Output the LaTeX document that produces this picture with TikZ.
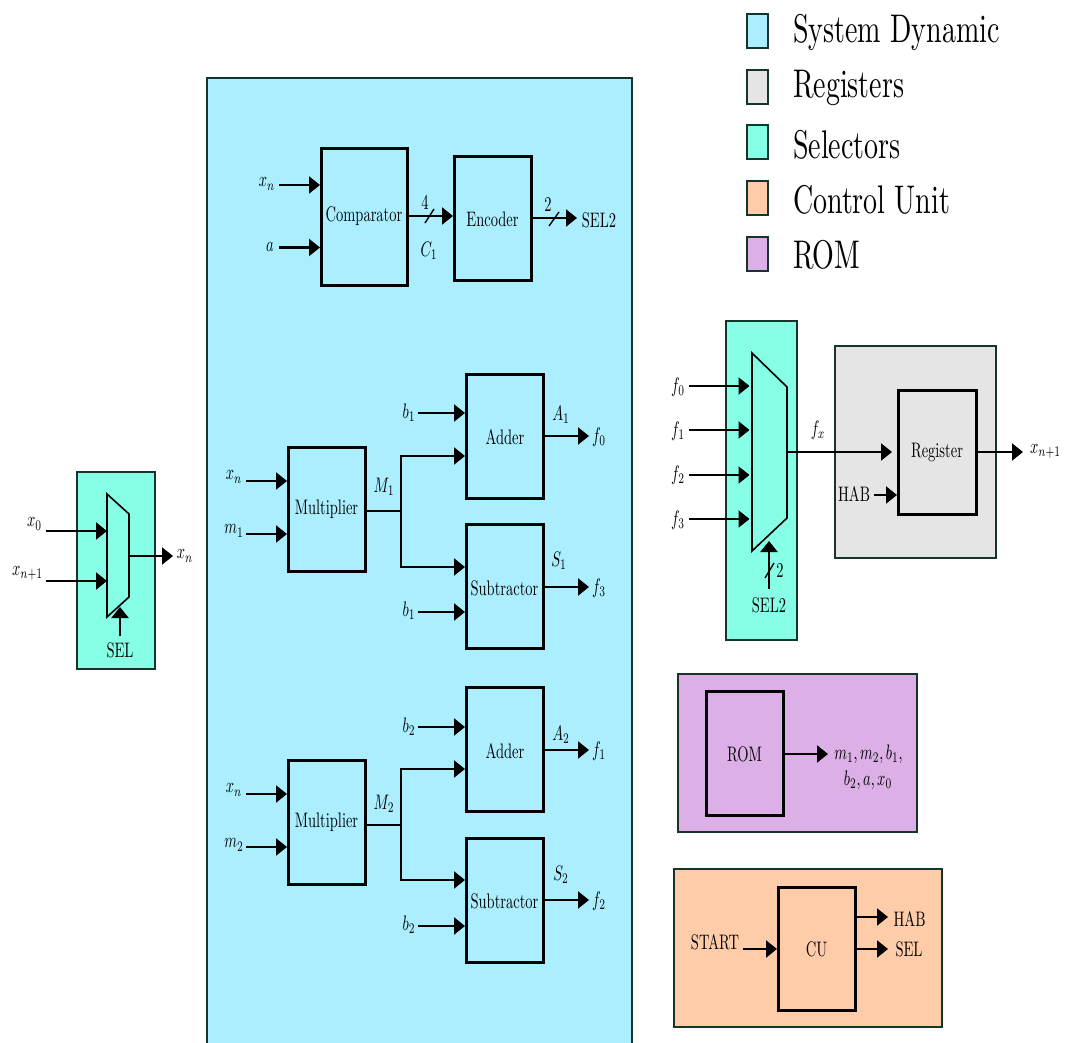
\documentclass[tikz,border=0pt]{standalone}
\usepackage{graphicx}
\usetikzlibrary{arrows.meta}
\definecolor{sysc}{HTML}{AAEEFF}
\definecolor{regc}{HTML}{E5E5E5}
\definecolor{selc}{HTML}{87FFE6}
\definecolor{cuc}{HTML}{FFCCAA}
\definecolor{romc}{HTML}{DCAFE6}
\definecolor{edgec}{HTML}{16352A}
\newcommand{\Sq}[1]{\scalebox{1.45}[2.1]{#1}}
\newcommand{\Lg}[1]{\scalebox{2.8}[4]{#1}}
\tikzset{
  x=1pt,y=-1pt,
  group/.style={draw=edgec,line width=1.3pt,inner sep=0,outer sep=0,anchor=north west},
  heavygroup/.style={group,line width=2.2pt},
  block/.style={draw=black,line width=3pt,inner sep=0,outer sep=0,anchor=north west},
  lab/.style={inner sep=0,outer sep=0},
  key/.style={draw=edgec,line width=2.6pt,inner sep=0,outer sep=0,minimum width=21pt,minimum height=34pt,anchor=north west},
  keytext/.style={inner sep=0,outer sep=0,anchor=west},
  conn/.style={line width=2.2pt,-{Triangle[length=11pt,width=17pt]},shorten >=1pt},
  muxin/.style={conn,shorten >=2.5pt},
  wire/.style={line width=2.2pt},
  slash/.style={line width=1.4pt},
  mux/.style={draw=black,line width=1.6pt,line join=miter},
}
\begin{document}
\begin{tikzpicture}
\useasboundingbox (0,0) rectangle (1073,1042);
\clip (0,0) rectangle (1073,1042);
% legend
\node[key,fill=sysc] (k1) at (747,14) {}; \node[keytext] (kt1) at (793,32) {\Lg{System Dynamic}};
\node[key,fill=regc] (k2) at (747,70) {}; \node[keytext] (kt2) at (793,88) {\Lg{Registers}};
\node[key,fill=selc] (k3) at (747,125) {}; \node[keytext] (kt3) at (793,145) {\Lg{Selectors}};
\node[key,fill=cuc] (k4) at (747,181) {}; \node[keytext] (kt4) at (793,200) {\Lg{Control Unit}};
\node[key,fill=romc] (k5) at (747,237) {}; \node[keytext] (kt5) at (793,255) {\Lg{ROM}};
% background groups
\node[heavygroup,fill=sysc,minimum width=425pt,minimum height=990pt] (gsys) at (207,78) {};
\node[group,fill=selc,minimum width=78pt,minimum height=197pt] (gsel1) at (77,472) {};
\node[group,fill=selc,minimum width=71pt,minimum height=319pt] (gsel2) at (726,321) {};
\node[group,fill=regc,minimum width=161pt,minimum height=212pt] (greg) at (835,346) {};
\node[heavygroup,fill=romc,minimum width=239pt,minimum height=158pt] (grom) at (678,674) {};
\node[heavygroup,fill=cuc,minimum width=268pt,minimum height=158pt] (gcu) at (674,869) {};
% comparator and encoder
\node[block,minimum width=86pt,minimum height=137pt] (cmp) at (321,148) {};
\node[lab] (cmpt) at (364,216) {\Sq{Comparator}};
\node[block,minimum width=77pt,minimum height=124pt] (enc) at (454,156) {};
\node[lab] (enct) at (492.5,219) {\Sq{Encoder}};
\node[lab] (lxn) at (267,184) {\Sq{$x_n$}};
\node[lab] (la) at (270,247) {\Sq{$a$}};
\coordinate (cxn) at (279,185); \coordinate (ca) at (279,247.5);
\draw[conn] (cxn) -- (cxn -| cmp.west);
\draw[conn] (ca) -- (ca -| cmp.west);
\coordinate (ccmp) at (407,216);
\draw[conn] (ccmp) -- (ccmp -| enc.west);
\coordinate (s1a) at (425,223); \coordinate (s1b) at (434,209);
\draw[slash] (s1a) -- (s1b);
\node[lab] (l4) at (425,202) {\Sq{4}};
\node[lab] (lc1) at (429,251) {\Sq{$C_1$}};
\node[lab] (lsel2o) at (599,220) {\Sq{SEL2}};
\coordinate (cenc) at (531,218);
\coordinate (csel2) at (578,218);
\draw[conn] (cenc) -- (csel2);
\coordinate (s2a) at (549,226); \coordinate (s2b) at (559,212);
\draw[slash] (s2a) -- (s2b);
\node[lab] (l2a) at (548,205) {\Sq{2}};
% first arithmetic group
\node[block,minimum width=77pt,minimum height=124pt] (m1) at (288,447) {};
\node[lab] (m1t) at (326.5,509) {\Sq{Multiplier}};
\node[block,minimum width=77pt,minimum height=124pt] (a1) at (466,374) {};
\node[lab] (a1t) at (505,437) {\Sq{Adder}};
\node[block,minimum width=77pt,minimum height=124pt] (s1) at (466,524) {};
\node[lab] (s1t) at (504.5,588) {\Sq{Subtractor}};
\node[lab] (lx1) at (234,477) {\Sq{$x_n$}};
\node[lab] (lm1) at (234,531) {\Sq{$m_1$}};
\coordinate (cx1) at (246,481); \coordinate (cm1) at (246,534);
\draw[conn] (cx1) -- (cx1 -| m1.west);
\draw[conn] (cm1) -- (cm1 -| m1.west);
\coordinate (j1) at (401,511);
\coordinate (ja1) at (401,456); \coordinate (js1) at (401,567);
\draw[wire] (j1 -| m1.east) -- (j1);
\draw[conn] (j1) -- (ja1) -- (ja1 -| a1.west);
\draw[conn] (j1) -- (js1) -- (js1 -| s1.west);
\node[lab] (lM1) at (384,487) {\Sq{$M_1$}};
\node[lab] (lb1a) at (409,413) {\Sq{$b_1$}};
\node[lab] (lb1b) at (409,611) {\Sq{$b_1$}};
\coordinate (cb1a) at (418,413); \coordinate (cb1b) at (418,612);
\draw[conn] (cb1a) -- (cb1a -| a1.west);
\draw[conn] (cb1b) -- (cb1b -| s1.west);
\coordinate (oa1) at (590,436); \coordinate (os1) at (590,587);
\draw[conn] (oa1 -| a1.east) -- (oa1);
\draw[conn] (os1 -| s1.east) -- (os1);
\node[lab] (lA1) at (561,415) {\Sq{$A_1$}};
\node[lab] (lS1) at (559,561) {\Sq{$S_1$}};
\node[lab] (lf0) at (599,437) {\Sq{$f_0$}};
\node[lab] (lf3) at (599,588) {\Sq{$f_3$}};
% second arithmetic group
\node[block,minimum width=77pt,minimum height=124pt] (m2) at (288,760) {};
\node[lab] (m2t) at (326.5,822) {\Sq{Multiplier}};
\node[block,minimum width=77pt,minimum height=124pt] (a2) at (466,687) {};
\node[lab] (a2t) at (505,751) {\Sq{Adder}};
\node[block,minimum width=77pt,minimum height=124pt] (s2) at (466,838) {};
\node[lab] (s2t) at (504.5,901) {\Sq{Subtractor}};
\node[lab] (lx2) at (234,790) {\Sq{$x_n$}};
\node[lab] (lm2) at (234,845) {\Sq{$m_2$}};
\coordinate (cx2) at (246,794); \coordinate (cm2) at (246,847);
\draw[conn] (cx2) -- (cx2 -| m2.west);
\draw[conn] (cm2) -- (cm2 -| m2.west);
\coordinate (j2) at (401,825);
\coordinate (ja2) at (401,769); \coordinate (js2) at (401,880);
\draw[wire] (j2 -| m2.east) -- (j2);
\draw[conn] (j2) -- (ja2) -- (ja2 -| a2.west);
\draw[conn] (j2) -- (js2) -- (js2 -| s2.west);
\node[lab] (lM2) at (384,804) {\Sq{$M_2$}};
\node[lab] (lb2a) at (409,727) {\Sq{$b_2$}};
\node[lab] (lb2b) at (409,925) {\Sq{$b_2$}};
\coordinate (cb2a) at (418,727); \coordinate (cb2b) at (418,926);
\draw[conn] (cb2a) -- (cb2a -| a2.west);
\draw[conn] (cb2b) -- (cb2b -| s2.west);
\coordinate (oa2) at (590,750); \coordinate (os2) at (590,900);
\draw[conn] (oa2 -| a2.east) -- (oa2);
\draw[conn] (os2 -| s2.east) -- (os2);
\node[lab] (lA2) at (561,735) {\Sq{$A_2$}};
\node[lab] (lS2) at (561,875) {\Sq{$S_2$}};
\node[lab] (lf1) at (599,751) {\Sq{$f_1$}};
\node[lab] (lf2) at (599,901) {\Sq{$f_2$}};
% left selector
\coordinate (ma) at (107,494); \coordinate (mb) at (129,514); \coordinate (mc) at (129,597); \coordinate (md) at (107,617);
\draw[mux] (ma) -- (mb) -- (mc) -- (md) -- cycle;
\coordinate (cx0) at (46,531); \coordinate (cxp) at (46,581);
\draw[conn,shorten >=0pt] (cx0) -- (cx0 -| ma);
\draw[conn,shorten >=0pt] (cxp) -- (cxp -| ma);
\coordinate (o1a) at (129,556); \coordinate (o1b) at (174,556);
\draw[conn] (o1a) -- (o1b);
\coordinate (sl1a) at (120,636); \coordinate (sl1b) at (120,606);
\draw[conn] (sl1a) -- (sl1b);
\node[lab] (lx0) at (34.5,524) {\Sq{$x_0$}};
\node[lab] (lxp) at (27.5,573) {\Sq{$x_{n+1}$}};
\node[lab] (lxno) at (185,556) {\Sq{$x_n$}};
\node[lab] (lsel) at (120,650) {\Sq{SEL}};
% right selector
\coordinate (na) at (752,353); \coordinate (nb) at (787,387); \coordinate (nc) at (787,518); \coordinate (nd) at (752,551);
\draw[mux] (na) -- (nb) -- (nc) -- (nd) -- cycle;
\coordinate (f0c) at (689,386); \coordinate (f1c) at (689,430); \coordinate (f2c) at (689,475); \coordinate (f3c) at (689,519);
\draw[muxin] (f0c) -- (f0c -| na);
\draw[muxin] (f1c) -- (f1c -| na);
\draw[muxin] (f2c) -- (f2c -| na);
\draw[muxin] (f3c) -- (f3c -| na);
\node[lab] (lf0i) at (678,387) {\Sq{$f_0$}};
\node[lab] (lf1i) at (678,431) {\Sq{$f_1$}};
\node[lab] (lf2i) at (678,475) {\Sq{$f_2$}};
\node[lab] (lf3i) at (678,520) {\Sq{$f_3$}};
\coordinate (sl2a) at (769,589); \coordinate (sl2b) at (769,540);
\draw[conn] (sl2a) -- (sl2b);
\coordinate (s3a) at (765,578); \coordinate (s3b) at (774,563);
\draw[slash] (s3a) -- (s3b);
\node[lab] (l2c) at (780,570) {\Sq{2}};
\node[lab] (lsel2) at (769,605) {\Sq{SEL2}};
% register
\node[block,minimum width=78pt,minimum height=124pt] (reg) at (898,390) {};
\node[lab] (regt) at (937,452.5) {\Sq{Register}};
\coordinate (fx) at (787,452); \coordinate (fxe) at (893,452);
\draw[conn] (fx) -- (fxe);
\node[lab] (lfx) at (818,430) {\Sq{$f_x$}};
\coordinate (hab) at (874,495);
\draw[conn] (hab) -- (hab -| reg.west);
\node[lab] (lhab) at (854,494) {\Sq{HAB}};
\coordinate (rego) at (1024,452);
\draw[conn] (rego -| reg.east) -- (rego);
\node[lab] (lxq) at (1045.5,451) {\Sq{$x_{n+1}$}};
% ROM
\node[block,minimum width=77pt,minimum height=124pt] (rom) at (706,691) {};
\node[lab] (romt) at (744.5,754) {\Sq{ROM}};
\coordinate (romo) at (829,754);
\draw[conn] (romo -| rom.east) -- (romo);
\node[lab] (lr1) at (868.5,754) {\Sq{$m_1,m_2,b_1,$}};
\node[lab] (lr2) at (868,780) {\Sq{$b_2,a,x_0$}};
% CU
\node[block,minimum width=77pt,minimum height=123pt] (cu) at (778,887) {};
\node[lab] (cut) at (816.5,949) {\Sq{CU}};
\coordinate (cui) at (743,949);
\draw[conn] (cui) -- (cui -| cu.west);
\node[lab] (lstart) at (715,942) {\Sq{START}};
\coordinate (cuh) at (889,917); \coordinate (cus) at (889,949);
\draw[conn] (cuh -| cu.east) -- (cuh);
\draw[conn] (cus -| cu.east) -- (cus);
\node[lab] (lh) at (909.5,919) {\Sq{HAB}};
\node[lab] (ls) at (909,949) {\Sq{SEL}};
\end{tikzpicture}
\end{document}
